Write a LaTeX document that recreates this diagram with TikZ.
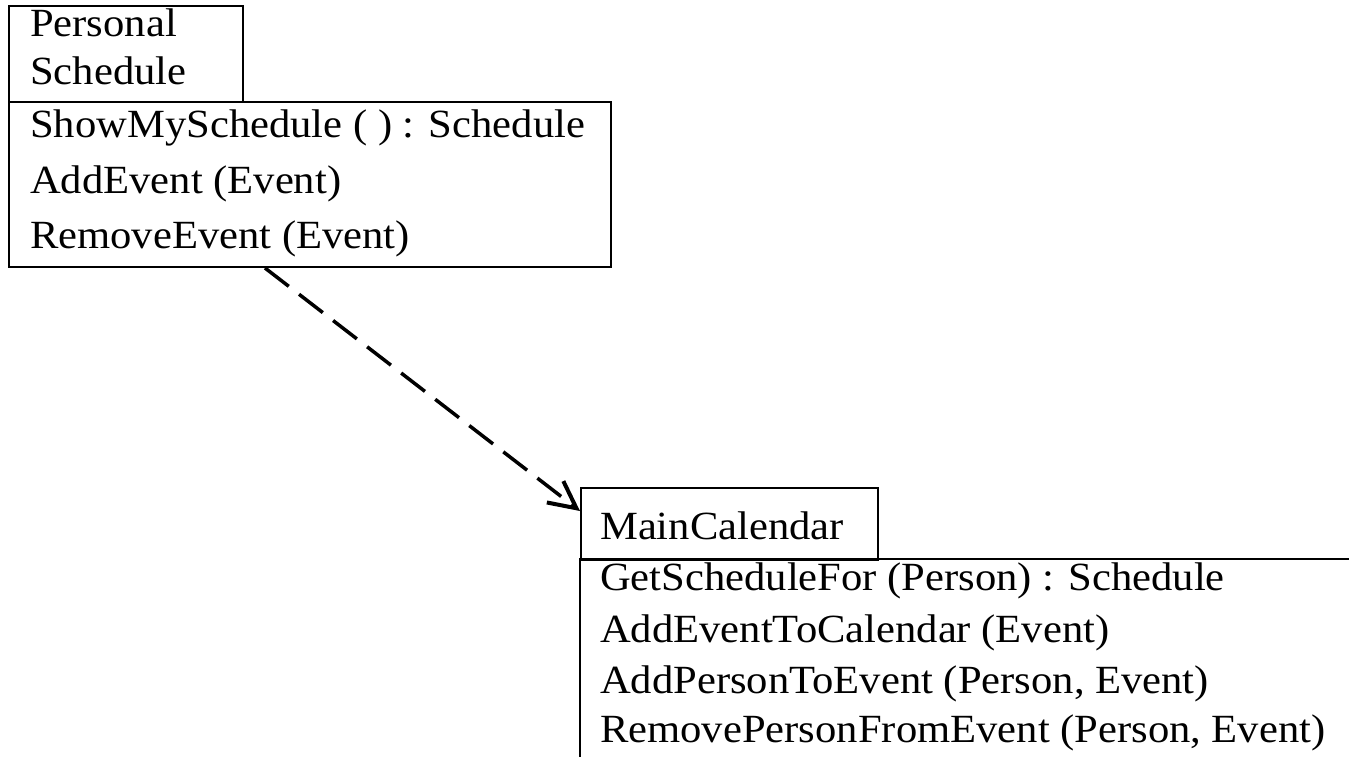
\documentclass[tikz,border=0pt]{standalone}
\usepackage{fontspec}
\setmainfont{Liberation Serif}[FakeStretch=1.065]
\usetikzlibrary{arrows.meta}
\begin{document}
\begin{tikzpicture}[x=1pt,y=-1pt,
  boxline/.style={line width=2pt},
  umlbox/.style={draw,line width=2pt,rectangle,inner sep=0pt,anchor=north west},
  label/.style={anchor=base west,inner sep=0pt,font=\fontsize{40}{50}\selectfont},
  dep/.style={line width=3.5pt,dash pattern=on 30pt off 13pt,
    -{Straight Barb[length=27pt,width=27pt,line width=4pt]}}]
\useasboundingbox (0,0) rectangle (1349,757);
% Personal Schedule
\node[umlbox,minimum width=234pt,minimum height=96pt] (n1) at (8,5) {};
\node[umlbox,minimum width=602pt,minimum height=165pt] (o1) at (8,101) {};
\node[label] (t1) at (30,37) {Personal};
\node[label] (t2) at (30,85) {Schedule};
\node[label] (t3) at (30,138) {ShowMySchedule ( ) : Schedule};
\node[label] (t4) at (30,193) {AddEvent (Event)};
\node[label] (t5) at (30,248) {RemoveEvent (Event)};
% MainCalendar
\node[umlbox,minimum width=297pt,minimum height=72pt] (n2) at (580,487) {};
\coordinate (o2nw) at (580,559);
\coordinate (o2ne) at (1349,559);
\coordinate (o2sw) at (580,757);
\draw[boxline] (o2ne) -- (o2nw) -- (o2sw);
\node[label] (m1) at (600,539) {MainCalendar};
\node[label] (m2) at (600,590) {GetScheduleFor (Person) : Schedule};
\node[label] (m3) at (600,642) {AddEventToCalendar (Event)};
\node[label] (m4) at (600,693) {AddPersonToEvent (Person, Event)};
\node[label] (m5) at (600,742) {RemovePersonFromEvent (Person, Event)};
% dependency
\coordinate (s) at ([xshift=257pt]o1.south west);
\coordinate (e) at ([yshift=13pt]n2.west);
\draw[dep] (s) -- (e);
\end{tikzpicture}
\end{document}
